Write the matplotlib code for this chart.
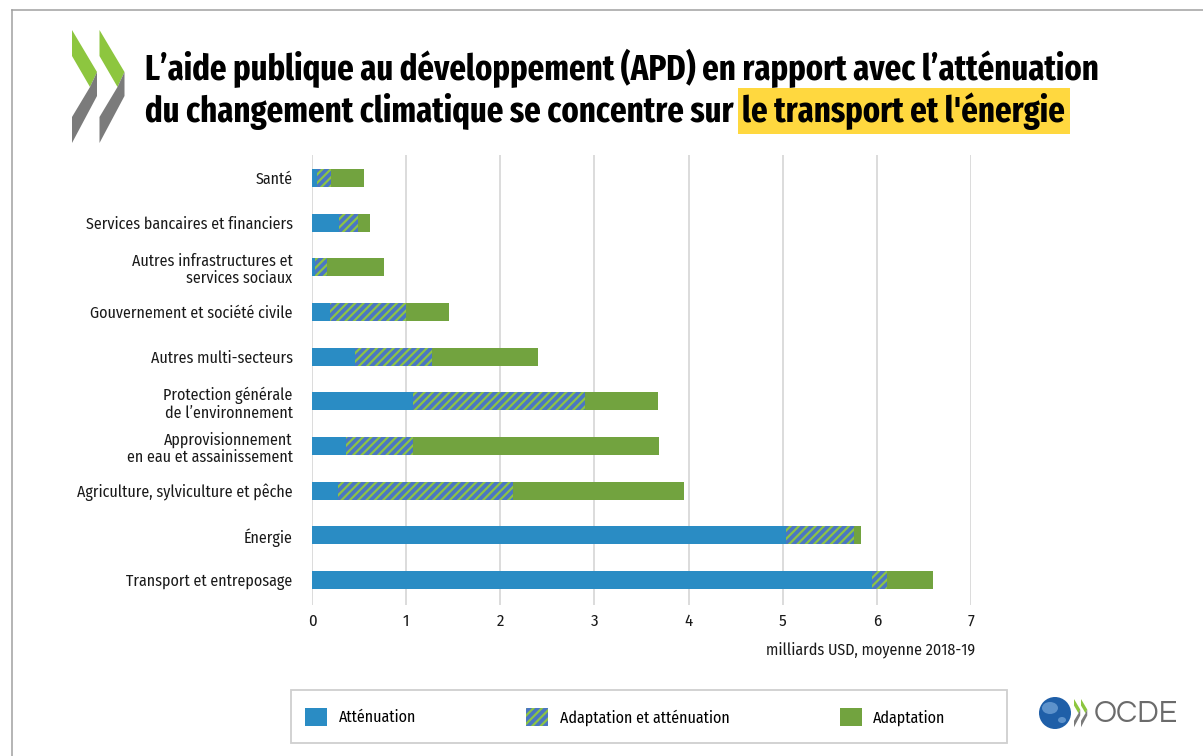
import matplotlib
matplotlib.use('Agg')
import matplotlib.pyplot as plt
import numpy as np
from matplotlib.patches import Patch, Polygon, Rectangle, Ellipse
from matplotlib.lines import Line2D

# data, top to bottom as in the chart (milliards USD, moyenne 2018-19)
sectors = [
    'Santé',
    'Services bancaires et financiers',
    'Autres infrastructures et\nservices sociaux',
    'Gouvernement et société civile',
    'Autres multi-secteurs',
    'Protection générale\nde l’environnement',
    'Approvisionnement\nen eau et assainissement',
    'Agriculture, sylviculture et pêche',
    'Énergie',
    'Transport et entreposage',
]
attenuation = [0.05, 0.29, 0.03, 0.19, 0.46, 1.07, 0.36, 0.28, 5.04, 5.95]
adapt_et_att = [0.15, 0.20, 0.13, 0.81, 0.81, 1.83, 0.71, 1.86, 0.72, 0.16]
adaptation = [0.35, 0.13, 0.61, 0.46, 1.13, 0.77, 2.62, 1.81, 0.07, 0.49]
series_names = ['Atténuation', 'Adaptation et atténuation', 'Adaptation']
xticks = [0, 1, 2, 3, 4, 5, 6, 7]

blue = '#2a8cc4'
hatch_blue = '#4a76c4'
hatch_green = '#8cc444'
green = '#72a33f'
logo_green = '#8dc63f'
logo_grey = '#7b7b7b'

body_font = ['Fira Sans Condensed', 'Roboto Condensed', 'Liberation Sans Narrow', 'DejaVu Sans']
title_font = ['Fira Sans Extra Condensed', 'Fira Sans Condensed', 'Roboto Condensed',
              'Liberation Sans Narrow', 'DejaVu Sans']
plt.rcParams['font.family'] = body_font
plt.rcParams['hatch.linewidth'] = 1.6

W, H = 1203, 756
fig = plt.figure(figsize=(W / 100, H / 100), dpi=100)
fig.patch.set_facecolor('white')


def fx(x):
    return x / W


def fy(y):
    return 1 - y / H


# frame (top and left only)
fig.add_artist(Line2D([fx(12), 1], [fy(10), fy(10)], color='#a0a0a0', lw=1.1))
fig.add_artist(Line2D([fx(12), fx(12)], [fy(10), 0], color='#a0a0a0', lw=1.1))

# OECD chevrons top-left
green_poly = np.array([(72, 30), (97, 72), (90, 87), (72, 56)], dtype=float)
grey_poly = np.array([(97, 72), (97, 96), (72, 143), (72, 117), (90, 87)], dtype=float)


def draw_chevrons(x0, y0, scale, gap):
    for k in range(2):
        for poly, col in ((green_poly, logo_green), (grey_poly, logo_grey)):
            pts = [(fx(x0 + (px - 72) * scale + k * gap), fy(y0 + (py - 30) * scale)) for px, py in poly]
            fig.add_artist(Polygon(pts, closed=True, facecolor=col, edgecolor='none'))


draw_chevrons(72, 30, 1.0, 27.5)

# title, sized so the first line spans the same width as the original
fig.canvas.draw()
renderer = fig.canvas.get_renderer()
t1 = fig.text(fx(145), fy(80), 'L’aide publique au développement (APD) en rapport avec l’atténuation',
              fontsize=24, fontweight='bold', family=title_font, color='black',
              va='baseline', ha='left')
w = t1.get_window_extent(renderer).width
fs = 24 * 955 / w
t1.set_fontsize(fs)
t2 = fig.text(fx(145), fy(122), 'du changement climatique se concentre sur',
              fontsize=fs, fontweight='bold', family=title_font, color='black',
              va='baseline', ha='left')
ext = t2.get_window_extent(renderer)
t3 = fig.text(ext.x1 / W + fx(9), fy(122), 'le transport et l\'énergie',
              fontsize=fs, fontweight='bold', family=title_font, color='black',
              va='baseline', ha='left',
              bbox=dict(facecolor='#ffd83f', edgecolor='none', pad=3.0))

# main axes
ax = fig.add_axes([fx(312), 1 - 605 / H, (971 - 312) / W, (605 - 155) / H])
y = np.arange(len(sectors))
att = np.array(attenuation)
both = np.array(adapt_et_att)
ada = np.array(adaptation)
bh = 0.41
ax.barh(y, att, height=bh, color=blue, zorder=3, label=series_names[0])
ax.barh(y, both, left=att, height=bh, facecolor=hatch_blue, edgecolor=hatch_green,
        hatch='////', linewidth=0, zorder=3, label=series_names[1])
ax.barh(y, ada, left=att + both, height=bh, color=green, zorder=3, label=series_names[2])

ax.set_ylim(9.56, -0.515)
ax.set_xlim(0, 7)
ax.set_xticks(xticks)
ax.set_xticklabels([str(t) for t in xticks])
ax.set_yticks(y)
ax.set_yticklabels(sectors, fontsize=11.5, color='#1a1a1a', linespacing=1.1)
ax.tick_params(axis='both', length=0)
ax.tick_params(axis='y', pad=14)
ax.tick_params(axis='x', pad=6, labelsize=12, labelcolor='#1a1a1a')
ax.grid(axis='x', color='#d9d9d9', lw=1.3, zorder=0)
ax.grid(axis='y', visible=False)
for s in ax.spines.values():
    s.set_visible(False)

fig.text(fx(975), fy(650), 'milliards USD, moyenne 2018-19', ha='right', va='center',
         fontsize=11.5, color='#1a1a1a')

# legend
fig.add_artist(Rectangle((fx(291), fy(743)), (1007 - 291) / W, (743 - 690) / H,
                         facecolor='white', edgecolor='#cfcfcf', lw=1.3))
handles = [Patch(facecolor=blue, edgecolor='none'),
           Patch(facecolor=hatch_blue, edgecolor=hatch_green, hatch='////', linewidth=0),
           Patch(facecolor=green, edgecolor='none')]
fig.legend(handles, series_names, loc='center left', bbox_to_anchor=(fx(305), fy(717)),
           ncol=3, frameon=False, fontsize=11.5, handlelength=1.4, handleheight=1.4,
           handletextpad=0.7, columnspacing=6.9, borderpad=0, borderaxespad=0)

# OCDE logo bottom right
fig.add_artist(Ellipse((fx(1055), fy(713)), 32 / W, 32 / H, facecolor='#1f5fa8', edgecolor='none'))
fig.add_artist(Ellipse((fx(1050), fy(708)), 16 / W, 12 / H, facecolor='#6d9fd4', edgecolor='none', alpha=0.8))
fig.add_artist(Ellipse((fx(1062), fy(720)), 8 / W, 6 / H, facecolor='#6d9fd4', edgecolor='none', alpha=0.8))
draw_chevrons(1074, 699, 0.25, 7)
fig.text(fx(1094), fy(714), 'OCDE', fontsize=22, color='#6b6b6b', ha='left', va='center',
         family=['Questrial', 'Liberation Sans', 'DejaVu Sans'])

plt.savefig('out.png', dpi=100)
